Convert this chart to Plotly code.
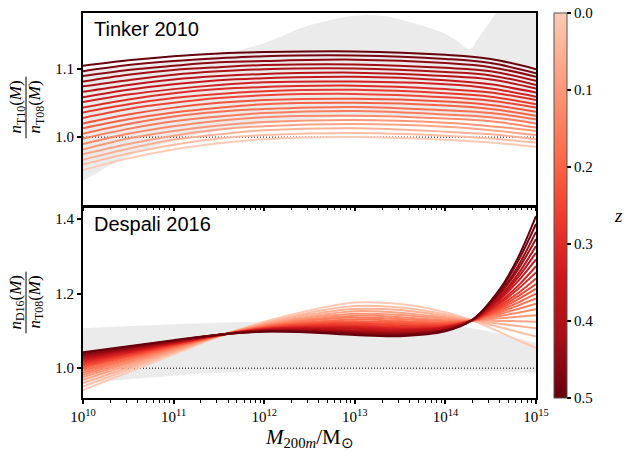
import plotly.graph_objects as go
from plotly.subplots import make_subplots
from plotly.colors import sample_colorscale

# ---------------- data ----------------
z_values = [0.0, 0.025, 0.05, 0.075, 0.1, 0.125, 0.15, 0.175, 0.2, 0.225, 0.25,
            0.275, 0.3, 0.325, 0.35, 0.375, 0.4, 0.425, 0.45, 0.475, 0.5]

# Top panel: n_T10 / n_T08, one row per redshift (z_values order)
top_logM = [10.0, 10.5, 11.0, 11.5, 12.0, 13.0, 14.0, 14.5, 15.0]
top_ratio = [
    [0.952, 0.969, 0.982, 0.991, 0.997, 1.000, 0.996, 0.992, 0.986],
    [0.960, 0.976, 0.989, 0.998, 1.003, 1.006, 1.002, 0.998, 0.992],
    [0.967, 0.983, 0.996, 1.004, 1.010, 1.013, 1.008, 1.004, 0.997],
    [0.975, 0.990, 1.002, 1.011, 1.016, 1.019, 1.015, 1.010, 1.003],
    [0.982, 0.998, 1.009, 1.017, 1.022, 1.025, 1.021, 1.016, 1.009],
    [0.990, 1.005, 1.016, 1.024, 1.029, 1.031, 1.027, 1.023, 1.014],
    [0.998, 1.012, 1.023, 1.030, 1.035, 1.038, 1.033, 1.029, 1.020],
    [1.005, 1.019, 1.030, 1.037, 1.041, 1.044, 1.039, 1.035, 1.026],
    [1.013, 1.026, 1.036, 1.043, 1.048, 1.050, 1.046, 1.041, 1.031],
    [1.020, 1.033, 1.043, 1.050, 1.054, 1.056, 1.052, 1.047, 1.037],
    [1.028, 1.041, 1.050, 1.057, 1.061, 1.063, 1.058, 1.053, 1.043],
    [1.036, 1.048, 1.057, 1.063, 1.067, 1.069, 1.064, 1.059, 1.048],
    [1.043, 1.055, 1.064, 1.070, 1.073, 1.075, 1.070, 1.065, 1.054],
    [1.051, 1.062, 1.070, 1.076, 1.080, 1.081, 1.077, 1.071, 1.059],
    [1.058, 1.069, 1.077, 1.083, 1.086, 1.088, 1.083, 1.077, 1.065],
    [1.066, 1.076, 1.084, 1.089, 1.092, 1.094, 1.089, 1.084, 1.071],
    [1.074, 1.083, 1.091, 1.096, 1.099, 1.100, 1.095, 1.090, 1.076],
    [1.081, 1.091, 1.098, 1.102, 1.105, 1.106, 1.101, 1.096, 1.082],
    [1.089, 1.098, 1.104, 1.109, 1.111, 1.113, 1.108, 1.102, 1.088],
    [1.096, 1.105, 1.111, 1.115, 1.118, 1.119, 1.114, 1.108, 1.093],
    [1.104, 1.112, 1.118, 1.122, 1.124, 1.125, 1.120, 1.114, 1.099],
]

# Bottom panel: n_D16 / n_T08
bot_logM = [10.0, 10.5, 11.0, 11.5, 12.0, 12.5, 13.0, 13.5, 14.0, 14.3, 14.6, 14.8, 15.0]
bot_ratio = [
    [0.941, 0.989, 1.037, 1.085, 1.125, 1.155, 1.176, 1.172, 1.150, 1.128, 1.097, 1.075, 1.055],
    [0.951, 0.996, 1.041, 1.086, 1.122, 1.149, 1.167, 1.163, 1.145, 1.128, 1.110, 1.097, 1.085],
    [0.960, 1.002, 1.044, 1.086, 1.120, 1.144, 1.159, 1.156, 1.140, 1.128, 1.119, 1.113, 1.107],
    [0.969, 1.008, 1.047, 1.086, 1.118, 1.139, 1.153, 1.149, 1.136, 1.128, 1.127, 1.126, 1.125],
    [0.976, 1.013, 1.050, 1.087, 1.116, 1.135, 1.146, 1.143, 1.133, 1.128, 1.134, 1.138, 1.142],
    [0.982, 1.017, 1.052, 1.087, 1.114, 1.131, 1.141, 1.137, 1.129, 1.128, 1.140, 1.149, 1.158],
    [0.988, 1.022, 1.055, 1.087, 1.112, 1.128, 1.136, 1.132, 1.126, 1.128, 1.145, 1.159, 1.173],
    [0.994, 1.025, 1.057, 1.088, 1.111, 1.124, 1.131, 1.127, 1.123, 1.128, 1.150, 1.168, 1.187],
    [0.999, 1.029, 1.059, 1.088, 1.110, 1.121, 1.126, 1.123, 1.121, 1.128, 1.155, 1.176, 1.200],
    [1.004, 1.032, 1.060, 1.088, 1.108, 1.119, 1.122, 1.119, 1.119, 1.128, 1.159, 1.185, 1.213],
    [1.008, 1.035, 1.062, 1.088, 1.107, 1.116, 1.119, 1.115, 1.116, 1.129, 1.163, 1.193, 1.226],
    [1.012, 1.038, 1.064, 1.089, 1.106, 1.114, 1.115, 1.112, 1.114, 1.129, 1.168, 1.201, 1.241],
    [1.016, 1.041, 1.065, 1.089, 1.105, 1.111, 1.112, 1.108, 1.112, 1.129, 1.173, 1.212, 1.257],
    [1.020, 1.043, 1.066, 1.089, 1.104, 1.109, 1.109, 1.105, 1.110, 1.129, 1.178, 1.221, 1.274],
    [1.024, 1.046, 1.068, 1.089, 1.103, 1.107, 1.106, 1.102, 1.109, 1.129, 1.184, 1.233, 1.292],
    [1.027, 1.048, 1.069, 1.089, 1.102, 1.105, 1.102, 1.099, 1.107, 1.129, 1.188, 1.243, 1.310],
    [1.030, 1.050, 1.070, 1.089, 1.101, 1.103, 1.100, 1.097, 1.105, 1.129, 1.192, 1.252, 1.328],
    [1.033, 1.052, 1.071, 1.090, 1.101, 1.102, 1.097, 1.094, 1.104, 1.130, 1.198, 1.264, 1.347],
    [1.036, 1.054, 1.073, 1.090, 1.100, 1.100, 1.095, 1.092, 1.102, 1.130, 1.202, 1.273, 1.366],
    [1.040, 1.057, 1.074, 1.090, 1.099, 1.098, 1.092, 1.089, 1.101, 1.130, 1.208, 1.286, 1.387],
    [1.043, 1.059, 1.075, 1.090, 1.098, 1.096, 1.089, 1.086, 1.099, 1.130, 1.212, 1.296, 1.408],
]

# Grey uncertainty bands
top_band_lo_logM = [10.0, 10.5, 11.0, 11.5, 12.0, 13.0, 14.0, 15.0]
top_band_lo = [0.936, 0.972, 0.995, 1.010, 1.020, 1.030, 1.030, 1.020]
top_band_hi_logM = [10.0, 10.5, 11.0, 11.5, 12.0, 12.5, 13.0, 13.3, 13.6, 13.94, 14.1, 14.27,
                    14.35, 14.49, 14.6, 14.8, 15.0]
top_band_hi = [1.095, 1.103, 1.110, 1.120, 1.137, 1.163, 1.177, 1.177, 1.168, 1.154, 1.143, 1.128,
               1.142, 1.168, 1.190, 1.240, 1.300]

bot_band_logM = [10.0, 10.5, 11.0, 11.5, 12.0, 12.5, 13.0, 13.5, 14.0, 14.5, 15.0]
bot_band_lo = [0.957, 0.970, 0.980, 0.988, 0.993, 0.995, 0.996, 0.996, 0.994, 0.992, 0.988]
bot_band_hi = [1.107, 1.113, 1.118, 1.122, 1.125, 1.126, 1.126, 1.125, 1.118, 1.098, 1.068]

cbar_tickvals = [0.0, 0.1, 0.2, 0.3, 0.4, 0.5]
cbar_ticktext = ["0.0", "0.1", "0.2", "0.3", "0.4", "0.5"]
x_tick_exps = [10, 11, 12, 13, 14, 15]

# ---------------- style ----------------
# truncated "Reds" (0.2 -> 1.0); position 0 = z 0.5 (dark), 1 = z 0 (light)
cscale = [
    [0.0, "#67000d"], [0.15625, "#a50f15"], [0.3125, "#cb181d"], [0.46875, "#ef3b2c"],
    [0.625, "#fb6a4a"], [0.78125, "#fc9272"], [0.9375, "#fcbba1"], [1.0, "#fdcab5"],
]
serif = "Liberation Serif"
sans = "Liberation Sans"
band_col = "#ebebeb"

fig = make_subplots(rows=2, cols=1, shared_xaxes=False, vertical_spacing=0.0)

def M(lst):
    return [10 ** v for v in lst]

# bands
fig.add_trace(go.Scatter(x=M(top_band_lo_logM), y=top_band_lo, mode="lines",
                         line=dict(width=0, shape="spline"), showlegend=False,
                         hoverinfo="skip"), row=1, col=1)
fig.add_trace(go.Scatter(x=M(top_band_hi_logM), y=top_band_hi, mode="lines",
                         line=dict(width=0, shape="spline"), fill="tonexty",
                         fillcolor=band_col, showlegend=False, hoverinfo="skip"), row=1, col=1)
fig.add_trace(go.Scatter(x=M(bot_band_logM), y=bot_band_lo, mode="lines",
                         line=dict(width=0, shape="spline"), showlegend=False,
                         hoverinfo="skip"), row=2, col=1)
fig.add_trace(go.Scatter(x=M(bot_band_logM), y=bot_band_hi, mode="lines",
                         line=dict(width=0, shape="spline"), fill="tonexty",
                         fillcolor=band_col, showlegend=False, hoverinfo="skip"), row=2, col=1)

# reference line at 1
for r in (1, 2):
    fig.add_trace(go.Scatter(x=M([10, 15]), y=[1.0, 1.0], mode="lines",
                             line=dict(color="black", width=1, dash="1px,2px"),
                             showlegend=False, hoverinfo="skip"), row=r, col=1)

# curves
cols = sample_colorscale(cscale, [1 - z / 0.5 for z in z_values])
for i, z in enumerate(z_values):
    fig.add_trace(go.Scatter(x=M(top_logM), y=top_ratio[i], mode="lines",
                             line=dict(color=cols[i], width=2, shape="spline"),
                             showlegend=False), row=1, col=1)
for i, z in enumerate(z_values):
    fig.add_trace(go.Scatter(x=M(bot_logM), y=bot_ratio[i], mode="lines",
                             line=dict(color=cols[i], width=2, shape="spline"),
                             showlegend=False), row=2, col=1)

# colourbar carrier
fig.add_trace(go.Scatter(
    x=[1e12, 1e12], y=[1.0, 1.0], mode="markers", showlegend=False, hoverinfo="skip",
    marker=dict(size=0.1, opacity=0, color=[-0.5, 0.0], cmin=-0.5, cmax=0.0,
                colorscale=cscale, showscale=True,
                colorbar=dict(x=(554 - 83) / 453, xanchor="left", xpad=0,
                              y=0.5, yanchor="middle", len=1.0, lenmode="fraction", ypad=0,
                              thickness=13, outlinecolor="#555", outlinewidth=1,
                              tickvals=[-v for v in cbar_tickvals], ticktext=cbar_ticktext,
                              ticks="outside", ticklen=4, tickwidth=1.5, tickcolor="black",
                              tickfont=dict(family=serif, size=15, color="black"))),
), row=2, col=1)

axis_common = dict(showline=True, linecolor="black", linewidth=2, mirror=True,
                   showgrid=False, zeroline=False, ticks="outside", ticklen=4,
                   tickwidth=1.5, tickcolor="black",
                   tickfont=dict(family=serif, size=15, color="black"))

xcommon = dict(type="log", range=[10, 15], dtick=1, exponentformat="power",
               minor=dict(ticks="outside", ticklen=2.5, tickwidth=1, dtick="D1",
                          tickcolor="black", showgrid=False))
fig.update_xaxes(**axis_common, **xcommon)
fig.update_xaxes(showticklabels=False, row=1, col=1)
fig.update_xaxes(tickvals=[10 ** e for e in x_tick_exps],
                 ticktext=[f"10<sup>{e}</sup>" for e in x_tick_exps], row=2, col=1)

fig.update_yaxes(**axis_common)
fig.update_yaxes(range=[0.901, 1.181], tickvals=[1.0, 1.1], tickformat=".1f",
                 domain=[194 / 387, 1.0], row=1, col=1)
fig.update_yaxes(range=[0.92, 1.43], tickvals=[1.0, 1.2, 1.4], tickformat=".1f",
                 domain=[0.0, 191 / 387], row=2, col=1)

ann = [
    dict(text="Tinker 2010", xref="x domain", yref="y domain", x=0.02, y=0.985,
         xanchor="left", yanchor="top", showarrow=False,
         font=dict(family=sans, size=20, color="black")),
    dict(text="Despali 2016", xref="x2 domain", yref="y2 domain", x=0.02, y=0.985,
         xanchor="left", yanchor="top", showarrow=False,
         font=dict(family=sans, size=20, color="black")),
    dict(text="<i>M</i><sub>200<i>m</i></sub>/M<sub>⊙</sub>", xref="paper", yref="paper",
         x=0.5, y=(398 - 438) / 387, xanchor="center", yanchor="middle", showarrow=False,
         font=dict(family=serif, size=21, color="black")),
    dict(text="<i>z</i>", xref="paper", yref="paper", x=(618 - 83) / 453,
         y=(398 - 215) / 387, xanchor="center", yanchor="middle", showarrow=False,
         font=dict(family=serif, size=19, color="black")),
]
# y-axis fraction labels
for yc, tag in ((106, "T10"), (302, "D16")):
    yp = (398 - yc) / 387
    ann.append(dict(text=f"<i>n</i><sub>{tag}</sub>(<i>M</i>)", xref="paper", yref="paper",
                    x=(17 - 83) / 453, y=yp, xanchor="center", yanchor="middle",
                    textangle=-90, showarrow=False,
                    font=dict(family=serif, size=17, color="black")))
    ann.append(dict(text="<i>n</i><sub>T08</sub>(<i>M</i>)", xref="paper", yref="paper",
                    x=(36 - 83) / 453, y=yp, xanchor="center", yanchor="middle",
                    textangle=-90, showarrow=False,
                    font=dict(family=serif, size=17, color="black")))
    fig.add_shape(type="line", xref="paper", yref="paper",
                  x0=(26 - 83) / 453, x1=(26 - 83) / 453,
                  y0=yp - 31 / 387, y1=yp + 31 / 387,
                  line=dict(color="black", width=1))

fig.update_layout(width=625, height=452, margin=dict(l=83, r=89, t=11, b=54),
                  paper_bgcolor="white", plot_bgcolor="white", annotations=ann,
                  showlegend=False)

fig.write_html("out.html", config={"displayModeBar": False},
               post_script="document.body.style.margin='0px';")
